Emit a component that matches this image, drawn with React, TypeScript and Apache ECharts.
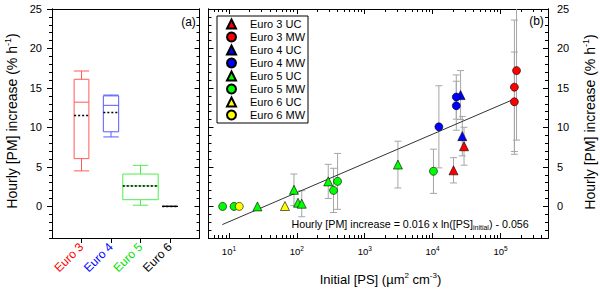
import React, { useEffect, useRef } from 'react';
import * as echarts from 'echarts';

const FONT = '"Liberation Sans", Arial, Helvetica, sans-serif';

// ---------- Panel (a): box plots ----------
const euroCategories = ['Euro 3', 'Euro 4', 'Euro 5', 'Euro 6'];
const euroPositions = [1, 2, 3, 4];
const boxMin = [4.5, 8.8, 0.15, 0];
const boxQ1 = [6.05, 9.45, 0.85, 0];
const boxMedian = [13.2, 12.8, 2.6, 0];
const boxQ3 = [16.1, 14.0, 4.1, 0];
const boxMax = [17.15, 14.1, 5.2, 0];
const boxMean = [11.5, 11.9, 2.6, 0];

// ---------- Panel (b): scatter ----------
const e3ucPS = [20300, 29000];
const e3ucPM = [4.57, 7.62];
const e3ucErr = [1.6, 2.4];

const e3mwPS = [160000, 160000, 172000];
const e3mwPM = [13.25, 15.1, 17.2];
const e3mwErr = [6.3, 8.5, 8.8];

const e4ucPS = [25800, 27350];
const e4ucPM = [14.1, 8.9];
const e4ucErr = [3.1, 2.5];

const e4mwPS = [12360, 22300, 22300];
const e4mwPM = [10.08, 12.75, 13.85];
const e4mwErr = [5.2, 3.1, 2.8];

const e5ucPS = [26.3, 90.7, 104, 118, 290, 3080];
const e5ucPM = [0, 2.1, 0.47, 0.34, 3.17, 5.3];
const e5ucErr = [0, 2.0, 0, 1.65, 2.16, 2.96];

const e5mwPS = [8.07, 11.9, 347, 398, 10280];
const e5mwPM = [0, 0, 2.03, 3.17, 4.45];
const e5mwErr = [0, 0, 2.8, 3.54, 2.8];

const e6ucPS = [66.8];
const e6ucPM = [0.05];
const e6ucErr = [0];

const e6mwPS = [14.2];
const e6mwPM = [0];
const e6mwErr = [0];

// regression line end points
const fitPS = [8, 160000];
const fitPM = [-2.3, 13.6];

// axis ticks
const pmMajorTicks = [0, 5, 10, 15, 20, 25];
const psMajorTicks = [10, 100, 1000, 10000, 100000];
const psMinorTicks: number[] = [];
[1, 10, 100, 1000, 10000, 100000].forEach((d) => {
  for (let k = 2; k <= 9; k++) {
    const v = k * d;
    if (v >= 5 && v <= 500000 && !(d === 1 && k < 6)) psMinorTicks.push(v);
  }
});

// ---------- styles ----------
const euroColors = ['#ff5a5a', '#5a5aff', '#4cee4c', '#000000'];
const boxWidths = [0.5, 0.52, 1.2, 0.52];
const capWidths = [0.52, 0.52, 0.52, 0.52];

const groups = [
  { name: 'Euro 3 UC', symbol: 'triangle', color: '#ff0000', ps: e3ucPS, pm: e3ucPM, err: e3ucErr },
  { name: 'Euro 3 MW', symbol: 'circle', color: '#ff0000', ps: e3mwPS, pm: e3mwPM, err: e3mwErr },
  { name: 'Euro 4 UC', symbol: 'triangle', color: '#0000ff', ps: e4ucPS, pm: e4ucPM, err: e4ucErr },
  { name: 'Euro 4 MW', symbol: 'circle', color: '#0000ff', ps: e4mwPS, pm: e4mwPM, err: e4mwErr },
  { name: 'Euro 5 UC', symbol: 'triangle', color: '#00ff00', ps: e5ucPS, pm: e5ucPM, err: e5ucErr },
  { name: 'Euro 5 MW', symbol: 'circle', color: '#00ff00', ps: e5mwPS, pm: e5mwPM, err: e5mwErr },
  { name: 'Euro 6 UC', symbol: 'triangle', color: '#ffff00', ps: e6ucPS, pm: e6ucPM, err: e6ucErr },
  { name: 'Euro 6 MW', symbol: 'circle', color: '#ffff00', ps: e6mwPS, pm: e6mwPM, err: e6mwErr },
];

const black = { color: '#000', width: 1 };

function valueAxisY(gridIndex: number, position: string, opts: any) {
  return {
    type: 'value',
    gridIndex,
    position,
    min: -4,
    max: 25,
    axisLine: { show: true, onZero: false, lineStyle: black },
    splitLine: { show: false },
    axisLabel: { show: false },
    ...opts,
  };
}

function logAxisX(position: string, opts: any) {
  return {
    type: 'log',
    logBase: 10,
    gridIndex: 1,
    position,
    min: 5,
    max: 500000,
    axisLine: { show: true, onZero: false, lineStyle: black },
    splitLine: { show: false },
    axisLabel: { show: false },
    ...opts,
  };
}

const boxData = euroPositions.map((p, i) => [p, boxMin[i], boxQ1[i], boxMedian[i], boxQ3[i], boxMax[i], boxMean[i]]);

const errData: number[][] = [];
groups.forEach((g) => {
  g.ps.forEach((x, i) => {
    if (g.err[i] > 0) errData.push([x, g.pm[i] - g.err[i], g.pm[i] + g.err[i]]);
  });
});

const option: any = {
  animation: false,
  backgroundColor: '#fff',
  textStyle: { fontFamily: FONT },
  grid: [
    { left: 52, top: 9, width: 147.5, height: 229, containLabel: false, outerBoundsMode: 'none' },
    { left: 208.5, top: 9, width: 339.5, height: 229, containLabel: false, outerBoundsMode: 'none' },
  ],
  legend: {
    orient: 'vertical',
    left: 217,
    top: 16,
    padding: [2, 3, 2, 9],
    itemGap: 1,
    itemWidth: 9,
    itemHeight: 9,
    symbolKeepAspect: true,
    backgroundColor: '#fff',
    borderColor: '#000',
    borderWidth: 1,
    borderRadius: 0,
    textStyle: { fontSize: 11, fontFamily: FONT, color: '#000', lineHeight: 12, padding: [0, 0, 0, 9] },
    data: groups.map((g) => ({ name: g.name, icon: g.symbol })),
  },
  xAxis: [
    {
      type: 'value',
      gridIndex: 0,
      position: 'bottom',
      min: 0,
      max: 5,
      axisLine: { show: true, onZero: false, lineStyle: black },
      splitLine: { show: false },
      axisTick: { show: true, inside: false, length: 5, customValues: euroPositions, lineStyle: black },
      axisLabel: {
        show: true,
        customValues: euroPositions,
        rotate: 45,
        margin: 7,
        fontSize: 12,
        fontFamily: FONT,
        formatter: (v: number) => `{c${v - 1}|${euroCategories[v - 1]}}`,
        rich: {
          c0: { color: '#ff0000', fontSize: 12, fontFamily: FONT },
          c1: { color: '#0000ff', fontSize: 12, fontFamily: FONT },
          c2: { color: '#00e000', fontSize: 12, fontFamily: FONT },
          c3: { color: '#000000', fontSize: 12, fontFamily: FONT },
        },
      },
    },
    {
      type: 'value',
      gridIndex: 0,
      position: 'top',
      min: 0,
      max: 5,
      axisLine: { show: true, onZero: false, lineStyle: black },
      splitLine: { show: false },
      axisTick: { show: false },
      axisLabel: { show: false },
    },
    logAxisX('bottom', {
      axisTick: { show: true, inside: true, length: 5, customValues: psMajorTicks, lineStyle: black },
      axisLabel: {
        show: true,
        customValues: psMajorTicks,
        margin: 7,
        fontSize: 9.5,
        lineHeight: 12,
        color: '#000',
        fontFamily: FONT,
        formatter: (v: number) => `10{s|${Math.round(Math.log10(v))}}`,
        rich: { s: { fontSize: 6.5, lineHeight: 6, verticalAlign: 'top', color: '#000', fontFamily: FONT } },
      },
    }),
    logAxisX('bottom', {
      axisTick: { show: true, inside: true, length: 3, customValues: psMinorTicks, lineStyle: black },
    }),
    logAxisX('top', {
      axisTick: { show: true, inside: true, length: 5, customValues: psMajorTicks, lineStyle: black },
    }),
    logAxisX('top', {
      axisTick: { show: true, inside: true, length: 3, customValues: psMinorTicks, lineStyle: black },
    }),
  ],
  yAxis: [
    valueAxisY(0, 'left', {
      axisTick: { show: true, inside: false, length: 5, customValues: pmMajorTicks, lineStyle: black },
      axisLabel: { show: true, customValues: pmMajorTicks, margin: 10, fontSize: 11, color: '#000', fontFamily: FONT },
    }),
    valueAxisY(0, 'left', { interval: 1, axisTick: { show: true, inside: false, length: 3, lineStyle: black } }),
    valueAxisY(0, 'right', { interval: 1, axisTick: { show: true, inside: true, length: 3, lineStyle: black } }),
    valueAxisY(0, 'right', {
      axisTick: { show: true, inside: true, length: 5, customValues: pmMajorTicks, lineStyle: black },
    }),
    valueAxisY(1, 'left', { interval: 1, axisTick: { show: true, inside: true, length: 3, lineStyle: black } }),
    valueAxisY(1, 'left', {
      axisTick: { show: true, inside: true, length: 5, customValues: pmMajorTicks, lineStyle: black },
    }),
    valueAxisY(1, 'right', { interval: 1, axisTick: { show: true, inside: true, length: 3, lineStyle: black } }),
    valueAxisY(1, 'right', {
      axisTick: { show: true, inside: true, length: 5, customValues: pmMajorTicks, lineStyle: black },
      axisLabel: { show: true, customValues: pmMajorTicks, margin: 9, fontSize: 11, color: '#000', fontFamily: FONT },
    }),
  ],
  series: [
    {
      type: 'custom',
      xAxisIndex: 0,
      yAxisIndex: 0,
      clip: true,
      silent: true,
      data: boxData,
      encode: { x: 0, y: [1, 5] },
      renderItem: (params: any, api: any) => {
        const i = params.dataIndex;
        const x = api.value(0);
        const mn = api.value(1);
        const q1 = api.value(2);
        const md = api.value(3);
        const q3 = api.value(4);
        const mx = api.value(5);
        const mean = api.value(6);
        const col = euroColors[i];
        const hw = boxWidths[i] / 2;
        const cw = capWidths[i] / 2;
        const P = (xx: number, yy: number) => api.coord([xx, yy]);
        const st = { stroke: col, lineWidth: 1, fill: 'transparent' };
        const ln = (a: number[], b: number[], style: any) => ({
          type: 'line',
          shape: { x1: a[0], y1: a[1], x2: b[0], y2: b[1] },
          style,
        });
        const bl = P(x - hw, q1);
        const tr = P(x + hw, q3);
        return {
          type: 'group',
          children: [
            {
              type: 'rect',
              shape: { x: bl[0], y: tr[1], width: tr[0] - bl[0], height: bl[1] - tr[1] },
              style: st,
            },
            ln(P(x, q1), P(x, mn), st),
            ln(P(x, q3), P(x, mx), st),
            ln(P(x - cw, mn), P(x + cw, mn), st),
            ln(P(x - cw, mx), P(x + cw, mx), st),
            ln(P(x - hw, md), P(x + hw, md), st),
            ln(P(x - hw, mean), P(x + hw, mean), { stroke: '#000', lineWidth: 1.5, lineDash: [2, 2] }),
          ],
        };
      },
    },
    {
      type: 'custom',
      xAxisIndex: 2,
      yAxisIndex: 7,
      clip: true,
      silent: true,
      z: 2,
      data: errData,
      encode: { x: 0, y: [1, 2] },
      renderItem: (params: any, api: any) => {
        const x = api.value(0);
        const a = api.coord([x, api.value(1)]);
        const b = api.coord([x, api.value(2)]);
        const c = 3.5;
        const st = { stroke: '#a6a6a6', lineWidth: 1 };
        return {
          type: 'group',
          children: [
            { type: 'line', shape: { x1: a[0], y1: a[1], x2: b[0], y2: b[1] }, style: st },
            { type: 'line', shape: { x1: a[0] - c, y1: a[1], x2: a[0] + c, y2: a[1] }, style: st },
            { type: 'line', shape: { x1: b[0] - c, y1: b[1], x2: b[0] + c, y2: b[1] }, style: st },
          ],
        };
      },
    },
    {
      type: 'line',
      xAxisIndex: 2,
      yAxisIndex: 7,
      z: 3,
      silent: true,
      symbol: 'none',
      lineStyle: { color: '#333', width: 1 },
      data: fitPS.map((x, i) => [x, fitPM[i]]),
    },
    ...groups.map((g) => ({
      type: 'scatter',
      name: g.name,
      xAxisIndex: 2,
      yAxisIndex: 7,
      z: 4,
      symbol: g.symbol,
      symbolSize: g.symbol === 'circle' ? 8 : 9,
      itemStyle: { color: g.color, borderColor: '#000', borderWidth: 0.6, opacity: 1 },
      data: g.ps.map((x, i) => [x, g.pm[i]]),
    })),
  ],
  graphic: [
    {
      type: 'text',
      x: 12,
      y: 121,
      rotation: Math.PI / 2,
      style: {
        text: 'Hourly [PM] increase (% h{s|-1})',
        fontSize: 14,
        lineHeight: 18,
        fontFamily: FONT,
        fill: '#000',
        align: 'center',
        verticalAlign: 'middle',
        rich: { s: { fontSize: 9, lineHeight: 9, verticalAlign: 'top', fontFamily: FONT, fill: '#000' } },
      },
    },
    {
      type: 'text',
      x: 590,
      y: 122,
      rotation: Math.PI / 2,
      style: {
        text: 'Hourly [PM] increase (% h{s|-1})',
        fontSize: 14,
        lineHeight: 18,
        fontFamily: FONT,
        fill: '#000',
        align: 'center',
        verticalAlign: 'middle',
        rich: { s: { fontSize: 9, lineHeight: 9, verticalAlign: 'top', fontFamily: FONT, fill: '#000' } },
      },
    },
    {
      type: 'text',
      x: 380.5,
      y: 279,
      style: {
        text: 'Initial [PS] (µm{s|2} cm{s|-3})',
        fontSize: 13,
        lineHeight: 16,
        fontFamily: FONT,
        fill: '#000',
        align: 'center',
        verticalAlign: 'middle',
        rich: { s: { fontSize: 8, lineHeight: 8, verticalAlign: 'top', fontFamily: FONT, fill: '#000' } },
      },
    },
    {
      type: 'text',
      x: 291.5,
      y: 224,
      style: {
        text: 'Hourly [PM] increase = 0.016 x ln([PS]{sub|initial}) - 0.056',
        fontSize: 10.7,
        lineHeight: 14,
        fontFamily: FONT,
        fill: '#000',
        align: 'left',
        verticalAlign: 'middle',
        rich: { sub: { fontSize: 7, lineHeight: 7, verticalAlign: 'bottom', fontFamily: FONT, fill: '#000' } },
      },
    },
    {
      type: 'text',
      x: 188.5,
      y: 21.5,
      style: { text: '(a)', fontSize: 12, fontFamily: FONT, fill: '#000', align: 'center', verticalAlign: 'middle' },
    },
    {
      type: 'text',
      x: 536.5,
      y: 21,
      style: { text: '(b)', fontSize: 12, fontFamily: FONT, fill: '#000', align: 'center', verticalAlign: 'middle' },
    },
  ],
};

export default function App() {
  const ref = useRef<HTMLDivElement>(null);
  useEffect(() => {
    const chart = echarts.init(ref.current as HTMLDivElement, null, { renderer: 'svg' });
    chart.setOption(option);
    return () => chart.dispose();
  }, []);
  return (
    <div
      ref={ref}
      style={{ position: 'fixed', left: 0, top: 0, width: 600, height: 289, background: '#fff' }}
    />
  );
}
